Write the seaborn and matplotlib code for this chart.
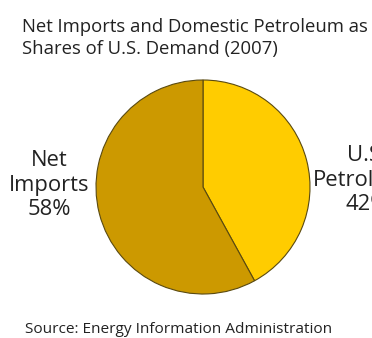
import matplotlib
matplotlib.use("Agg")
import matplotlib.pyplot as plt
import seaborn as sns

sns.set_theme(style="white")
plt.rcParams["font.family"] = ["Open Sans", "DejaVu Sans"]

# Shares of U.S. petroleum demand, 2007
categories = ["U.S.\nPetroleum", "Net\nImports"]
shares = [42, 58]
colors = ["#FFCC00", "#CC9900"]
title_lines = ["Net Imports and Domestic Petroleum as",
               "Shares of U.S. Demand (2007)"]
source = "Source: Energy Information Administration"

W, H = 372, 338
fig = plt.figure(figsize=(W / 100, H / 100), dpi=100)
ax = fig.add_axes([0, 0, 1, 1])

cx, cy, r = 203, H - 187, 107
ax.pie(shares, colors=colors, startangle=90, counterclock=False,
       center=(cx, cy), radius=r, frame=True,
       wedgeprops=dict(edgecolor="#5a4a10", linewidth=0.8))
ax.set_xlim(0, W)
ax.set_ylim(0, H)
ax.set_aspect("equal")
ax.axis("off")

ink = "#222222"
label_style = dict(fontsize=15.8, color=ink, ha="center", va="center",
                   linespacing=1.2)
ax.text(367, H - 180, f"{categories[0]}\n{shares[0]}%", **label_style)
ax.text(49.5, H - 185, f"{categories[1]}\n{shares[1]}%", **label_style)

for i, line in enumerate(title_lines):
    fig.text(22 / W, 1 - (32 + 22 * i) / H, line, fontsize=13.3, color=ink,
             ha="left", va="baseline")
fig.text(25 / W, 1 - 333 / H, source, fontsize=11.1, color=ink,
         ha="left", va="baseline")

fig.savefig("out.png", dpi=100)
